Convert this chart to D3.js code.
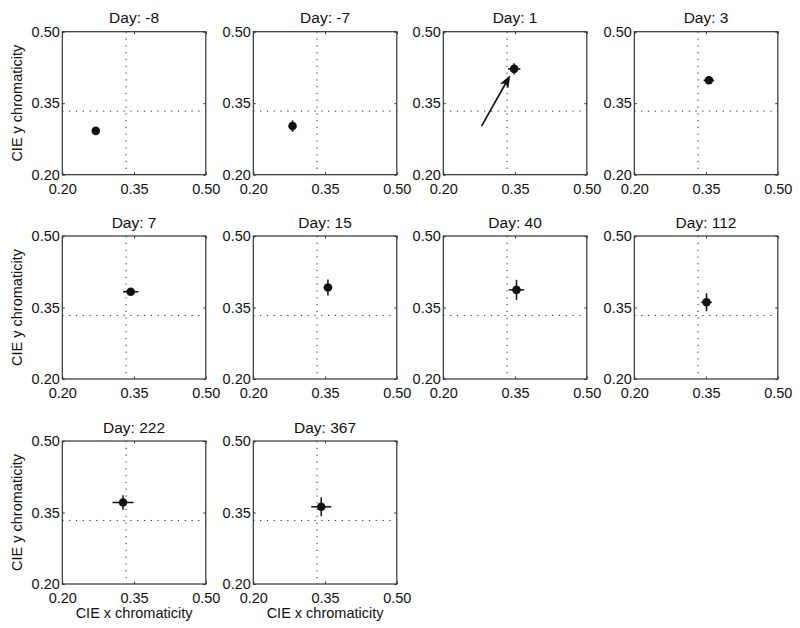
<!DOCTYPE html>
<html>
<head>
<meta charset="utf-8">
<script src="https://cdn.jsdelivr.net/npm/d3@7"></script>
<style>
  html, body { margin: 0; padding: 0; background: #fff; }
  svg { display: block; font-family: "Liberation Sans", Arial, Helvetica, sans-serif; }
</style>
</head>
<body>
<svg id="chart" width="800" height="628"></svg>
<script>
// ---- data ----
const days  = ["-8", "-7", "1", "3", "7", "15", "40", "112", "222", "367"];
const xMean = [0.270, 0.282, 0.348, 0.356, 0.343, 0.356, 0.353, 0.351, 0.327, 0.342];
const yMean = [0.292, 0.302, 0.422, 0.398, 0.383, 0.392, 0.387, 0.361, 0.371, 0.362];
const xErr  = [0.003, 0.004, 0.013, 0.011, 0.016, 0.009, 0.016, 0.011, 0.022, 0.021];
const yErr  = [0.003, 0.012, 0.012, 0.006, 0.006, 0.017, 0.021, 0.019, 0.015, 0.020];
const whitePoint = [1 / 3, 1 / 3];
const tickValues = [0.20, 0.35, 0.50];
const tickLabels = ["0.20", "0.35", "0.50"];
const axisDomain = [0.2, 0.5];
// arrow on the Day 1 panel: from the Day -7 position toward the Day 1 point
const arrowPanel = 2;
const arrowFrom = [0.280, 0.302];
const arrowTo   = [0.339, 0.407];
const xLabel = "CIE x chromaticity";
const yLabel = "CIE y chromaticity";

// ---- layout ----
const colLeft = [62.3, 253.3, 443.3, 634.3];
const rowTop = [31.7, 236, 441];
const pw = 143.5, ph = 143;
const ink = "#111";
const fontSize = 14.5;

const svg = d3.select("#chart");

const x = d3.scaleLinear().domain(axisDomain).range([0, pw]);
const y = d3.scaleLinear().domain(axisDomain).range([ph, 0]);
const fmt = d => tickLabels[tickValues.indexOf(d)];

days.forEach((day, i) => {
  const col = i % 4, row = Math.floor(i / 4);
  const g = svg.append("g").attr("transform", `translate(${colLeft[col]},${rowTop[row]})`);

  // dotted white-point lines
  g.append("line")
    .attr("x1", x(whitePoint[0])).attr("x2", x(whitePoint[0]))
    .attr("y1", 0).attr("y2", ph)
    .attr("stroke", "#222").attr("stroke-width", 1)
    .attr("stroke-dasharray", "1.2,5.6");
  g.append("line")
    .attr("x1", 0).attr("x2", pw)
    .attr("y1", y(whitePoint[1])).attr("y2", y(whitePoint[1]))
    .attr("stroke", "#222").attr("stroke-width", 1)
    .attr("stroke-dasharray", "1.2,5.6");

  // axes
  const bottom = g.append("g").attr("transform", `translate(0,${ph})`)
    .call(d3.axisBottom(x).tickValues(tickValues).tickFormat(fmt)
      .tickSizeInner(-2.5).tickSizeOuter(0).tickPadding(8.7));
  const left = g.append("g")
    .call(d3.axisLeft(y).tickValues(tickValues).tickFormat(fmt)
      .tickSizeInner(-2.5).tickSizeOuter(0).tickPadding(2.5));
  const top = g.append("g")
    .call(d3.axisTop(x).tickValues(tickValues).tickFormat("")
      .tickSizeInner(-2.5).tickSizeOuter(0));
  const right = g.append("g").attr("transform", `translate(${pw},0)`)
    .call(d3.axisRight(y).tickValues(tickValues).tickFormat("")
      .tickSizeInner(-2.5).tickSizeOuter(0));
  [bottom, left, top, right].forEach(a => {
    a.select(".domain").remove();
    a.selectAll("line").attr("stroke", "#333");
    a.selectAll("text").attr("fill", ink).style("font-size", fontSize + "px")
      .style("font-family", '"Liberation Sans", Arial, Helvetica, sans-serif');
  });

  // frame
  g.append("rect").attr("x", 0).attr("y", 0).attr("width", pw).attr("height", ph)
    .attr("fill", "none").attr("stroke", "#333").attr("stroke-width", 1.2);

  // title
  g.append("text").attr("x", pw / 2).attr("y", -8.5)
    .attr("text-anchor", "middle").attr("fill", ink)
    .style("font-size", "15.5px").text("Day: " + day);

  // error bars
  const cx = x(xMean[i]), cy = y(yMean[i]);
  g.append("line")
    .attr("x1", x(xMean[i] - xErr[i])).attr("x2", x(xMean[i] + xErr[i]))
    .attr("y1", cy).attr("y2", cy)
    .attr("stroke", ink).attr("stroke-width", 1.5);
  g.append("line")
    .attr("x1", cx).attr("x2", cx)
    .attr("y1", y(yMean[i] - yErr[i])).attr("y2", y(yMean[i] + yErr[i]))
    .attr("stroke", ink).attr("stroke-width", 1.5);
  g.append("circle").attr("cx", cx).attr("cy", cy).attr("r", 4.3).attr("fill", ink);

  // arrow
  if (i === arrowPanel) {
    const x0 = x(arrowFrom[0]), y0 = y(arrowFrom[1]);
    const x1 = x(arrowTo[0]), y1 = y(arrowTo[1]);
    const ang = Math.atan2(y1 - y0, x1 - x0);
    const hl = 11, hw = 4.2, notch = 3;
    const ux = Math.cos(ang), uy = Math.sin(ang);
    const px = -uy, py = ux;
    const bx = x1 - ux * hl, by = y1 - uy * hl;
    const nx = x1 - ux * (hl - notch), ny = y1 - uy * (hl - notch);
    g.append("line")
      .attr("x1", x0).attr("y1", y0).attr("x2", nx).attr("y2", ny)
      .attr("stroke", ink).attr("stroke-width", 1.6);
    g.append("path")
      .attr("d", `M${x1},${y1}L${bx + px * hw},${by + py * hw}L${nx},${ny}L${bx - px * hw},${by - py * hw}Z`)
      .attr("fill", ink).attr("stroke", ink).attr("stroke-width", 0.8)
      .attr("stroke-linejoin", "miter");
  }

  // axis labels
  if (col === 0) {
    g.append("text")
      .attr("transform", `translate(${22 - colLeft[0]},${ph / 2}) rotate(-90)`)
      .attr("text-anchor", "middle").attr("fill", ink)
      .style("font-size", fontSize + "px").text(yLabel);
  }
  if (row === 2) {
    g.append("text").attr("x", pw / 2).attr("y", ph + 34)
      .attr("text-anchor", "middle").attr("fill", ink)
      .style("font-size", fontSize + "px").text(xLabel);
  }
});
</script>
</body>
</html>
